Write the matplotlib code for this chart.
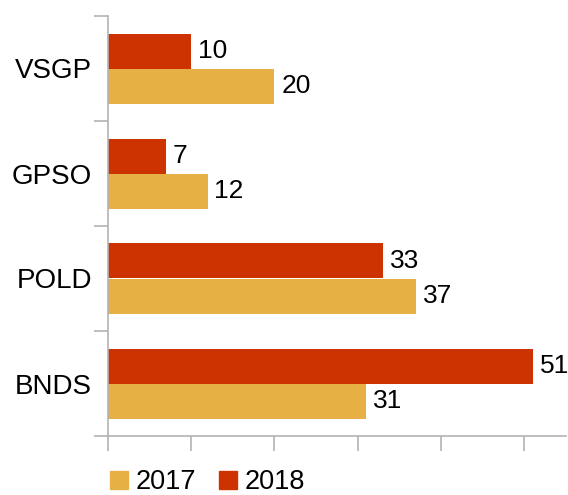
import numpy as np
import matplotlib.pyplot as plt
from matplotlib.lines import Line2D

plt.rcParams['font.family'] = ['Liberation Sans', 'DejaVu Sans']

# ── Data ──────────────────────────────────────────────────────────────────────
categories = ['VSGP', 'GPSO', 'POLD', 'BNDS']
vals_2018 = [10, 7, 33, 51]
vals_2017 = [20, 12, 37, 31]
years = ['2017', '2018']

c2017 = '#E6B045'
c2018 = '#CC3300'
grey = '#B3B3B3'

# ── Plot ──────────────────────────────────────────────────────────────────────
fig = plt.figure(figsize=(5.68, 4.95), dpi=100)
ax = fig.add_axes([107.5 / 568, 1 - 436 / 495, (566 - 107.5) / 568, 420 / 495])

y = np.arange(len(categories))
h = 1 / 3
b18 = ax.barh(y - h / 2, vals_2018, height=h, color=c2018)
b17 = ax.barh(y + h / 2, vals_2017, height=h, color=c2017)
ax.bar_label(b18, padding=5, fontsize=19)
ax.bar_label(b17, padding=5, fontsize=19)

ax.set_xlim(0, 55)
ax.set_ylim(3.5, -0.5)

ax.set_yticks(y)
ax.set_yticklabels(categories, fontsize=20)
ax.tick_params(axis='y', which='major', length=0, pad=11)
ax.set_yticks(np.arange(-0.5, 4, 1), minor=True)
ax.tick_params(axis='y', which='minor', length=10, color=grey, width=1.2)

ax.set_xticks(np.arange(0, 60, 10))
ax.set_xticklabels([])
ax.tick_params(axis='x', length=11, color=grey, width=1.2)

for s in ['top', 'right']:
    ax.spines[s].set_visible(False)
for s in ['left', 'bottom']:
    ax.spines[s].set_color(grey)
    ax.spines[s].set_linewidth(1.2)

handles = [Line2D([], [], marker='s', linestyle='none', markersize=12.5, color=c)
           for c in (c2017, c2018)]
fig.legend(handles, years, loc='center left', bbox_to_anchor=(111 / 568, 1 - 482 / 495),
           ncol=2, frameon=False, fontsize=19.5, handlelength=0.6, handletextpad=0.3,
           columnspacing=0.9, borderaxespad=0, borderpad=0)

fig.savefig('out.png', dpi=100)
